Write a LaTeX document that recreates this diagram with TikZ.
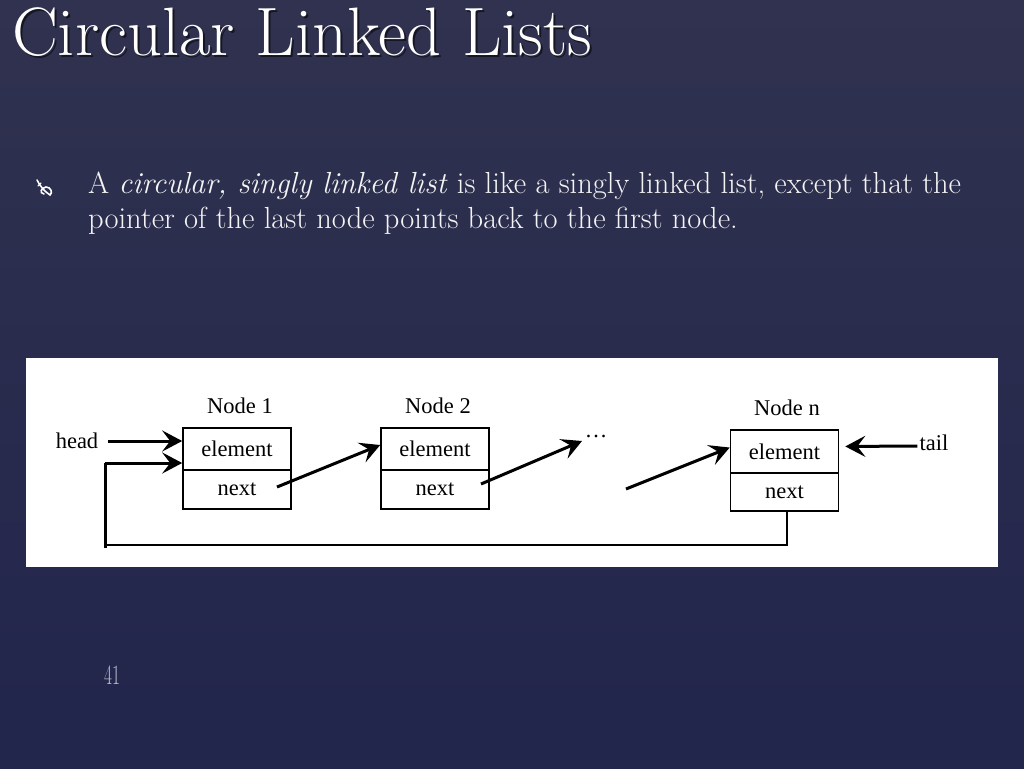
\documentclass[tikz,border=0pt]{standalone}
\usepackage{fontspec}
\newfontfamily\tms{Liberation Serif}
\usetikzlibrary{arrows.meta,calc}
\newcommand{\pal}{\rmfamily}
\definecolor{bgtop}{HTML}{30324F}
\definecolor{bgmid}{HTML}{3C4068}
\definecolor{bgbot}{HTML}{22254C}
\definecolor{txt}{HTML}{F4F4F4}
\definecolor{pgnum}{HTML}{BCBECE}
\begin{document}
\begin{tikzpicture}[x=1pt,y=-1pt,
  cell/.style={draw=black,line width=1.6pt,minimum width=108pt,inner sep=0pt,
    font=\tms\fontsize{22.5}{24}\selectfont,text=black},
  lbl/.style={font=\tms\fontsize{22.5}{24}\selectfont,text=black,inner sep=0pt},
  ptr/.style={line width=3pt,-{Stealth[length=20pt,width=21pt,inset=8pt]}},
  loopline/.style={line width=2pt},
]
\useasboundingbox (0,0) rectangle (1024,768);
\shade[top color=bgtop,middle color=bgmid,bottom color=bgbot] (0,0) rectangle (1024,768);

% title with shadow
\node[anchor=base west,inner sep=0pt,text=black,opacity=0.55,font=\pal\fontsize{68.5}{72}\selectfont] (tshadow) at (14,58) {Circular Linked Lists};
\node[anchor=base west,inner sep=0pt,text=white,font=\pal\fontsize{68.5}{72}\selectfont] (title) at (12,56) {Circular Linked Lists};

% bullet glyph
\draw[white,line width=1.6pt,line cap=round] (37,180) .. controls (40,186) and (44,191) .. (50,195)
  .. controls (53,193) and (51,187) .. (46,187) .. controls (41,188) and (39,193) .. (44,194);
\draw[white,line width=1.4pt,line cap=round] (38,186) -- (41,183);

% bullet text
\node[anchor=base west,inner sep=0pt,text=txt,font=\pal\fontsize{30.5}{35}\selectfont] (l1) at (88,193)
  {A \textit{circular, singly linked list} is like a singly linked list, except that the};
\node[anchor=base west,inner sep=0pt,text=txt,font=\pal\fontsize{30.5}{35}\selectfont] (l2) at (88,228)
  {pointer of the last node points back to the first node.};

% white panel
\fill[white] (26,358) rectangle (998,567);

% node boxes
\node[cell,minimum height=42pt] (n1e) at (237,449) {element};
\node[cell,minimum height=39pt] (n1n) at (237,489.5) {next};
\node[cell,minimum height=42pt] (n2e) at (435,449) {element};
\node[cell,minimum height=39pt] (n2n) at (435,489.5) {next};
\node[cell,minimum height=43pt] (nne) at (784.5,451.5) {element};
\node[cell,minimum height=38pt] (nnn) at (784.5,492) {next};

% node labels
\node[lbl] (lab1) at (240,406) {Node 1};
\node[lbl] (lab2) at (438,406) {Node 2};
\node[lbl] (labn) at (787,408) {Node n};
\node[lbl] (head) at (77,441) {head};
\node[lbl] (tail) at (934,443) {tail};
\node[lbl] (dots) at (596,436) {\ldots};

% coordinates
\coordinate (p1) at (277,487);
\coordinate (p2) at (481,484);
\coordinate (p3) at (626,489);
\coordinate (q2) at (582,441);
\coordinate (loopL) at (105,463);
\coordinate (loopB) at (105,548);
\coordinate (loopC) at (107,545);
\coordinate (nnb) at (787,510);

% pointers
\draw[ptr] (108,441) -- ($(n1e.west)+(0,-8)$);
\draw[ptr] (loopL) -- ($(n1e.west)+(0,14)$);
\draw[ptr] (p1) -- ($(n2e.west)+(0,-4)$);
\draw[ptr] (p2) -- (q2);
\draw[ptr] (p3) -- ($(nne.west)+(0,-4)$);
\draw[ptr,shorten >=6pt] ($(tail.west)+(-2,3)$) -- ($(nne.east)+(0,-5)$);

% loop back
\draw[loopline] (nnb) |- (loopC);
\draw[line width=3pt] (loopL) -- (loopB);

% page number
\node[anchor=base west,inner sep=0pt,text=pgnum,font=\pal\fontsize{28}{30}\selectfont,xscale=0.62] (pg) at (104,684) {41};
\end{tikzpicture}
\end{document}
